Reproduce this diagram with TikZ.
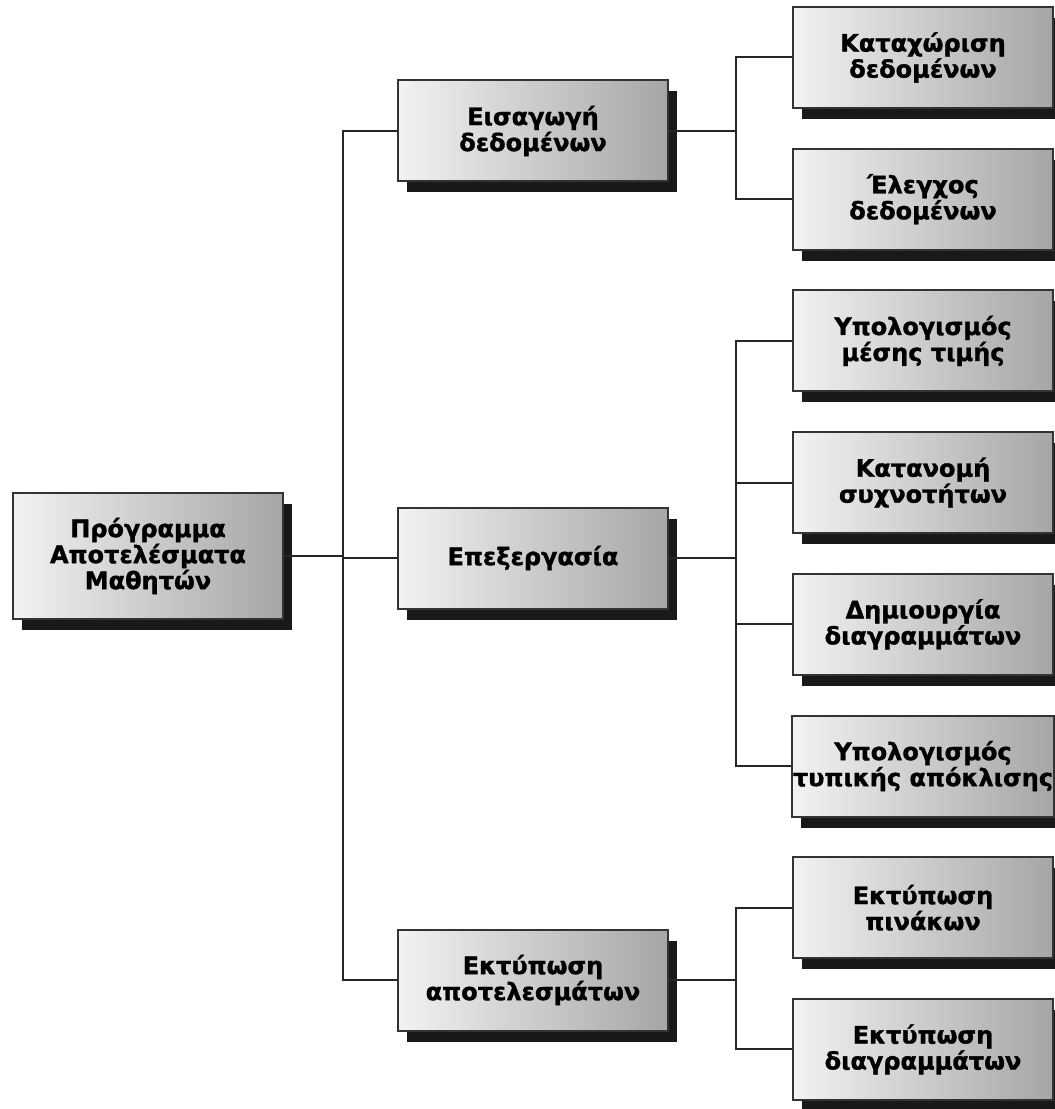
\documentclass[tikz,border=0pt]{standalone}
\usepackage{fontspec}
\setmainfont{DejaVu Sans}[BoldFeatures={FakeBold=1.3}]
\usetikzlibrary{shadows}

\begin{document}
\begin{tikzpicture}[x=0.75pt, y=-0.75pt]
	\tikzstyle{box} = [ draw=black!80, line width=1.5pt, rectangle, align=center, left color=black!5, right color=black!35, drop shadow={shadow xshift=6.75pt, shadow yshift=-8.25pt, fill=black!90, opacity=1}, font={\bfseries\fontsize{18}{19.5}\selectfont}, inner sep=0.5pt ];
	\tikzstyle{task} = [ box, minimum width=202.5pt, minimum height=75.75pt ];
	\tikzstyle{leaf} = [ box, minimum width=195pt, minimum height=75.75pt ];
	\tikzstyle{link} = [ line width=1.5pt, color=black!85 ];

	\useasboundingbox (0,0) rectangle (1055,1109);

	\coordinate (trunk) at (343,0);
	\coordinate (branch) at (736,0);

	\node[task, minimum height=94.5pt] (root) at (148,556) {Πρόγραμμα\\Αποτελέσματα\\Μαθητών};
	\node[task] (m1) at (533,131) {Εισαγωγή\\δεδομένων};
	\node[task] (m2) at (533,558) {Επεξεργασία};
	\node[task] (m3) at (533,980) {Εκτύπωση\\αποτελεσμάτων};

	\def \leaves {{Καταχώριση\\δεδομένων},{Έλεγχος\\δεδομένων},{Υπολογισμός\\μέσης τιμής},{Κατανομή\\συχνοτήτων},{Δημιουργία\\διαγραμμάτων},{Υπολογισμός\\τυπικής απόκλισης},{Εκτύπωση\\πινάκων},{Εκτύπωση\\διαγραμμάτων}}

	\foreach \t [count=\i] in \leaves {
		\pgfmathparse{57.5+(\i-1)*141.7}
		\let \ly \pgfmathresult
		\node[leaf] (l\i) at (923,\ly) {\t};
	}

	\draw[link] (root.east) -- (root.east -| trunk);
	\draw[link] (m1.west) -- (m1.west -| trunk) -- (m3.west -| trunk) -- (m3.west);
	\draw[link] (m2.west) -- (m2.west -| trunk);

	\foreach \m/\a/\b in {m1/1/2, m2/3/6, m3/7/8} {
		\draw[link] (\m.east) -- (\m.east -| branch);
		\draw[link] (l\a.west) -- (l\a.west -| branch) -- (l\b.west -| branch) -- (l\b.west);
		\foreach \k in {\a,...,\b}
			\draw[link] (l\k.west) -- (l\k.west -| branch);
	}

\end{tikzpicture}
\end{document}
